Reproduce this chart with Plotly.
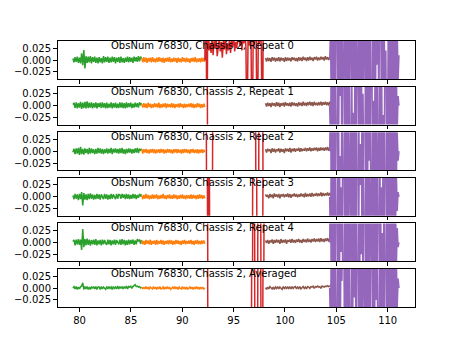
import numpy as np
import plotly.graph_objects as go

OBSNUM = 76830
CHASSIS = 2
panel_labels = ["Repeat 0", "Repeat 1", "Repeat 2", "Repeat 3", "Repeat 4", "Averaged"]

# Frequency span (GHz) of each band; samples are evenly spaced across it
green_span = (79.35, 86.05)
orange_span = (86.05, 92.2)
red_span = (92.2, 98.0)
brown_span = (98.1, 104.9)
purple_span = (104.35, 111.1)

# Spectrum values for each band, one list per panel, in units of 1e-3
green_vals = [
    [3, -5, 6, -4, 7, -6, 5, -7, 14, -11, 21, -18, 8, -6, 7, -5, 8, -7, 6, -4, 7, -6, 5, -7, 6, -5, 4, -7, 8, -5, 6, -4, 7, -6, 5, -5, 7, -4, 6, -7, 5, -4, 6, -6, 7, -5, 4, -6, 5, -4, 7, -5, 6, -4, 5, -6, 7, -3, 6, -4, 8, -3, 7, 3],
    [2, 6, -5, 7, -6, 5, -4, 8, -7, 6, -5, 8, -6, 9, -5, 6, -4, 7, -6, 5, -4, 7, -6, 5, -3, 6, -5, 7, -4, 5, -6, 6, -5, 4, -4, 7, -6, 5, -4, 6, -5, 4, -5, 7, -4, 6, -5, 5, -6, 7, -4, 5, -3, 6, -5, 4, -4, 6, -3, 5, -4, 7, 2, 5],
    [-2, 5, -6, 6, -5, 7, -8, 9, -6, 5, -7, 6, -4, 5, -6, 7, -5, 6, -4, 4, -6, 5, -5, 7, -4, 6, -5, 5, -6, 4, -4, 6, -5, 5, -4, 7, -6, 5, -3, 6, -4, 5, -5, 6, -4, 7, -5, 4, -6, 5, -4, 6, -3, 5, -5, 4, -4, 6, -3, 7, -4, 5, 2, 5],
    [3, -5, 6, -4, 5, -7, 6, -5, 10, -18, 8, -6, 5, -7, 6, -5, 7, -4, 5, -6, 4, -5, 6, -4, 5, -6, 5, -2, -5, 6, -4, 5, -6, 4, -5, 6, -4, 5, -2, -5, 6, -4, 5, 4, -4, 6, -2, 5, -5, 6, -4, 5, -5, 4, -4, 6, -3, 5, -5, 4, -2, 6, 2, 5],
    [2, 5, -6, 6, -4, 7, -5, 6, -16, 28, -10, 7, -6, 8, -5, 6, -7, 5, -4, 6, -5, 7, -6, 4, -4, 5, -6, 6, -4, 5, -2, -5, 6, -4, 5, -6, 4, -4, 6, -5, 5, -2, -4, 6, -5, 7, -4, 5, -6, 4, -5, 6, -4, 5, -3, 6, -5, 4, -4, 7, 2, 6, -3, 5],
    [0, 3, -2, 3, -3, 2, -2, 3, 4, 11, -3, 3, -2, 3, -3, 2, -3, 3, -1, 3, -2, 3, -3, 2, 2, -3, 3, -2, 2, -1, -3, 3, -2, 3, -1, 2, -3, 3, -1, 2, -2, 4, -2, 3, -1, 3, -2, 3, -1, 4, -2, 3, 2, 4, -1, 3, 5, 7, 3, 4, 2, 3, 0, 2],
]

orange_vals = [
    [4, -5, 6, -4, 5, -6, 4, -3, 5, -5, 6, -4, 3, -5, 5, -4, 6, -3, 4, -5, 5, -6, 4, -3, 5, -4, 6, -5, 3, -4, 5, -3, 4, -6, 5, -4, 3, -5, 6, -3, 4, -5, 5, -4, 3, -6, 4, -3, 5, -4, 6, -5, 3, -4, 4, -5, 5, -3, 4, -4],
    [3, -4, 5, -4, 4, -5, 6, -3, 4, -5, 3, -4, 5, -3, 4, -4, 6, -5, 3, -4, 4, -3, 5, -5, 4, -3, 3, -4, 5, -4, 4, -5, 3, -3, 4, -4, 5, -3, 3, -5, 4, -4, 3, -3, 4, -3, 5, -4, 4, -5, 3, -4, 5, -3, 4, -5, 3, -4, 4, -3],
    [4, -5, 4, -3, 5, -4, 3, -5, 4, -3, 5, -4, 4, -5, 3, -3, 4, -4, 5, -3, 4, -5, 3, -4, 5, -3, 4, -4, 3, -5, 4, -3, 5, -4, 4, -3, 3, -5, 4, -4, 5, -3, 4, -4, 3, -5, 4, -3, 5, -4, 3, -4, 4, -5, 3, -3, 4, -4, 3, -2],
    [3, -5, 4, -4, 6, -3, 4, -5, 3, -4, 5, -4, 4, -3, 5, -5, 3, -4, 4, -3, 6, -4, 3, -5, 4, -3, 5, -4, 3, -4, 5, -3, 4, -5, 3, -4, 4, -3, 5, -4, 3, -5, 4, -3, 3, -4, 5, -4, 4, -3, 3, -5, 4, -4, 5, -3, 4, -4, 3, -3],
    [4, -4, 3, -5, 5, -3, 4, -4, 6, -5, 3, -3, 4, -5, 5, -4, 3, -3, 5, -4, 4, -5, 3, -3, 4, -4, 5, -3, 4, -5, 3, -4, 5, -3, 4, -4, 3, -5, 4, -3, 5, -4, 3, -3, 4, -3, 5, -4, 3, -5, 4, -3, 5, -4, 3, -4, 4, -3, 4, -3],
    [2, -2, 2, -2, 3, -2, 2, -3, 2, -1, -2, 3, -2, 2, -3, 2, -2, 3, -2, -1, 2, -3, 2, -2, 3, -2, 2, -3, -1, 2, -2, 3, -2, 2, -3, 2, -1, -2, 3, -2, 2, -3, 2, -2, -1, 3, -2, 2, -3, 2, -2, 3, -2, 2, -3, 2, -2, 2, -2, 0],
]

red_vals = [
    [-1, 300, -300, 250, 20, 35, 15, 45, 10, 40, 25, 50, 8, 30, 45, 18, 38, 5, 42, 22, 48, 12, 35, 20, 45, 15, 40, 28, 50, 18, 38, 25, 45, 60, 30, 55, 20, 45, 35, 60, 25, -200, 40, 30, 55, 30, -250, 45, 30, 60, 40, -250, 50, 35, 60, 30, -300, 200, 300],
    [400, 380, 360, -420, -380, -400, -350, -420, -390, -410, -370, -400, -380, -420, -360, -400, -390, -410, -380, -400, -420, -370, -390, -400, -410, -380, -400, -360, -420, -390, -400, -380, -410, -400, -370, -390, -420, -400, -380, -410, -390, -400, -370, -420, -380, -400, -390, -410, -380, -400, -420, -370, -390, -400, -410, -380, -400, -390, -420],
    [400, 350, -350, -380, -400, -360, -390, -300, 300, 350, 380, 400, 360, 390, 410, 370, 400, 380, 420, 360, 400, 390, 410, 380, 400, 420, 370, 390, 400, 410, 380, 400, 360, 420, 390, 400, 380, 410, 400, 370, 390, 420, 400, 380, 410, 390, 400, 370, 380, 300, -300, -350, -300, 300, 350, 380, 300, -300, -400],
    [400, 380, 300, -300, 300, -300, -400, -380, -410, -390, -400, -360, -420, -380, -400, -390, -410, -370, -400, -380, -420, -390, -400, -360, -410, -380, -400, -390, -420, -370, -400, -380, -410, -390, -400, -360, -420, -380, -400, -390, -410, -370, -400, -380, -390, -350, -300, 300, 350, 320, 300, -300, -350, -380, -360, -330, -300, 300, 400],
    [400, 350, 450, -150, -300, -380, -400, -360, -410, -390, -400, -370, -420, -380, -400, -390, -410, -360, -400, -380, -420, -390, -400, -370, -410, -380, -400, -390, -420, -360, -400, -380, -410, -390, -400, -370, -420, -380, -400, -390, -410, -360, -400, -380, -390, -350, -300, 300, 300, -300, -320, -300, 300, 320, 300, -300, -320, -300, 300],
    [400, 350, 450, -150, -300, -380, -400, -360, -410, -390, -400, -370, -420, -380, -400, -390, -410, -360, -400, -380, -420, -390, -400, -370, -410, -380, -400, -390, -420, -360, -400, -380, -410, -390, -400, -370, -420, -380, -400, -390, -410, -360, -400, -380, -390, -300, 300, 320, 300, -300, -320, -300, 300, 320, 300, -300, -300, 300, 350],
]

brown_vals = [
    [4, -3, 5, -2, 4, -4, 6, -1, 5, -3, 4, -2, 6, -3, 5, -1, 4, -4, 6, -2, 5, -1, 4, -3, 6, 0, 5, -2, 4, -3, 6, -1, 5, -2, 7, 0, 5, -2, 6, -1, 7, 0, 5, -2, 6, 1, 7, -1, 5, 0, 7, 1, 6, -1, 8, 1, 6, 0, 7, 2, 8, 1, 7, 2],
    [5, -2, 6, -1, 5, -3, 6, 0, 5, -2, 7, -1, 6, -3, 5, 0, 6, -2, 7, 0, 5, -1, 6, -2, 7, 0, 6, -1, 5, -2, 7, 0, 6, -1, 8, 0, 6, -1, 7, 1, 8, 0, 7, -1, 8, 1, 6, 0, 7, 1, 8, 0, 7, 2, 8, 1, 7, 0, 8, 2, 7, 1, 8, 2],
    [4, -3, 5, 0, 4, -4, 6, -1, 5, -3, 4, 0, 6, -3, 5, -1, 4, -4, 6, 0, 5, -1, 7, -3, 5, 0, 6, -1, 5, 1, 7, -1, 6, 0, 5, 1, 7, 0, 6, 1, 8, 0, 6, 1, 7, 2, 8, 0, 7, 1, 8, 2, 7, 1, 8, 2, 9, 1, 7, 2, 8, 3, 7, 2],
    [5, 0, 4, -3, 6, -1, 5, -3, 7, 0, 5, -1, 6, -3, 5, 1, 6, -1, 5, 0, 7, -1, 6, -2, 5, 1, 7, 0, 6, -1, 5, 0, 7, 1, 6, -1, 8, 0, 6, 1, 7, 0, 8, 1, 6, 2, 8, 1, 7, 2, 9, 1, 8, 2, 7, 3, 9, 2, 8, 3, 7, 2, 8, 3],
    [4, -1, 5, -3, 4, 0, 6, -3, 5, -1, 6, 0, 5, -3, 7, -1, 5, 0, 6, -3, 5, 1, 6, -1, 7, 0, 5, -1, 6, 1, 7, 0, 5, -1, 7, 1, 6, 0, 8, 1, 6, 0, 7, 2, 8, 1, 7, 2, 8, 1, 9, 2, 7, 1, 8, 3, 9, 2, 8, 3, 7, 2, 8, 3],
    [1, -3, 2, -2, 3, -1, -2, 2, -3, 2, -1, 3, -2, 2, -1, -3, 3, -1, 2, -2, 3, -1, 2, -2, 3, -1, 2, 3, -2, 2, -1, 3, -2, 2, 3, -1, 2, -2, 3, 2, -1, 3, 2, 4, -1, 3, 2, 4, 2, 3, -1, 4, 3, 2, 4, 3, 5, 3, 4, 6, 4, 5, 3, 4],
]

purple_vals = [
    [0, 60, -150, 180, -170, 200, -190, 160, 170, -180, 200, -160, 190, -210, 170, -180, -15, 190, -170, 200, -160, 180, -190, 210, 25, -170, 160, -190, 180, -200, 170, -160, -20, 180, -170, 200, -180, 160, -210, 190, 30, -170, 200, -160, 190, -180, 170, -200, -160, 190, -180, 170, -200, 160, -10, 210, -170, 180, 190, -160, 200, -180, 170, -190, 20, -200, -170, 180, -190, 160, -170, 200, -150, 120, -160, 90, -140, 60, -40, 10],
    [0, -80, 160, -190, 200, -170, 180, -200, -160, 190, -180, 170, 20, 160, -190, 210, 180, -170, 190, -160, 200, -180, 170, -190, -200, 160, -180, -15, -170, 200, -160, 180, 170, -190, 160, -200, 180, -170, 25, -160, -180, 200, -170, 160, -190, 180, -200, 170, 160, -180, 10, -170, 200, -160, 180, -190, -170, 200, -160, 190, -180, -20, -200, 160, 190, -170, 180, -160, 200, -190, 150, -170, 130, -150, 100, -120, 70, -50, 20, 0],
    [0, 120, -170, 190, -160, 200, -180, 170, 180, -190, 160, -200, -10, -180, 190, -160, -170, 200, -190, 160, -180, 170, -200, 20, 160, -170, 180, -190, 200, -160, 170, -180, -200, 190, -170, 15, -190, 180, -160, 200, 210, -180, 170, -190, 160, -20, 180, -170, -160, 190, -180, 200, -170, 160, -190, 30, 170, -200, 190, -160, 180, -170, 200, -190, -180, 160, -170, 190, -200, 180, -150, 170, -120, 140, -90, 110, -60, 40, -20, 0],
    [0, -130, 180, -160, 190, -200, 170, -180, -190, 160, -170, 200, -180, 20, -160, 170, 180, -200, 160, -190, 170, -180, 200, -15, -170, 190, -180, 160, -200, 170, -190, 180, 200, -160, 190, 25, 180, -200, 160, -190, -180, 170, -160, 200, -190, 180, -170, -10, 190, -180, 170, -200, 160, -190, 180, -170, -160, 200, -180, 20, -170, 160, -200, 180, 170, -190, 160, -180, 200, -150, 170, -130, 150, -100, 120, -80, 50, -30, 10, 0],
    [0, 150, -180, 170, -190, 160, -200, 180, 190, -170, 160, -180, 200, -20, 170, -160, -180, 190, -170, 200, -160, 180, -190, 170, 10, -200, 190, -170, 180, -160, 200, -180, -170, 160, -190, 180, -25, 170, -160, 190, 200, -180, 170, -160, 190, -200, 180, 15, -190, 160, -180, 200, -170, 190, -160, 180, 170, -190, 160, -200, 20, -170, 190, -160, -180, 200, -190, 170, -160, 180, -140, 160, -110, 130, -80, 90, -50, 30, -10, 0],
    [0, -100, 170, -190, 180, -160, 200, -170, -180, 190, -160, 180, -200, 170, 15, 160, 170, -180, 200, -160, 190, -170, 180, -200, -190, 160, -180, 170, -20, 190, -160, 180, 160, -170, 190, -180, 200, -160, 170, 10, -170, 180, -200, 160, -180, 190, -170, 200, 180, -160, 190, -180, 170, -25, 160, -190, -180, 170, -160, 200, -190, 180, -170, 160, 190, -180, 170, -200, 160, -170, 140, -160, 120, -130, 90, -100, 60, -40, 20, 0],
]

# Drawing order and colours of the bands
bands = [
    (green_span, green_vals, "#2ca02c"),
    (orange_span, orange_vals, "#ff7f0e"),
    (red_span, red_vals, "#d62728"),
    (brown_span, brown_vals, "#8c564b"),
    (purple_span, purple_vals, "#9467bd"),
]

x_ticks = [80, 85, 90, 95, 100, 105, 110]
y_ticks = [-0.025, 0.0, 0.025]
y_tick_text = ["\u22120.025", "0.000", "0.025"]
x_range = [77.85, 112.63]
y_range = [-0.04, 0.04]

W, H = 461, 346
left_px, right_px = 57.5, 414.7
top0_px, step_px, panel_h_px = 41.0, 45.6, 38.0

font = dict(family="DejaVu Sans", size=10, color="black")

fig = go.Figure()
layout = dict(
    width=W, height=H,
    margin=dict(l=0, r=0, t=0, b=0),
    paper_bgcolor="white", plot_bgcolor="white",
    showlegend=False, font=font,
)
annotations = []
n = len(panel_labels)
for k, label in enumerate(panel_labels):
    sfx = "" if k == 0 else str(k + 1)
    xa, ya = "x" + sfx, "y" + sfx
    for span, vals, color in bands:
        v = np.asarray(vals[k], dtype=float) * 1e-3
        x = np.linspace(span[0], span[1], len(v))
        fig.add_trace(go.Scatter(x=x, y=v, mode="lines", xaxis=xa, yaxis=ya,
                                 line=dict(color=color, width=1.5),
                                 hoverinfo="skip"))
    top = top0_px + step_px * k
    bot = top + panel_h_px
    layout["xaxis" + sfx] = dict(
        domain=[left_px / W, right_px / W], anchor=ya, range=x_range,
        showline=True, mirror=True, linecolor="black", linewidth=1,
        ticks="outside", ticklen=3.5, tickwidth=0.8, tickcolor="black",
        tickvals=x_ticks, showticklabels=(k == n - 1),
        showgrid=False, zeroline=False, tickfont=font,
        **({} if k == 0 else {"matches": "x"}),
    )
    layout["yaxis" + sfx] = dict(
        domain=[1 - bot / H, 1 - top / H], anchor=xa, range=y_range,
        showline=True, mirror=True, linecolor="black", linewidth=1,
        ticks="outside", ticklen=3.5, tickwidth=0.8, tickcolor="black",
        tickvals=y_ticks, ticktext=y_tick_text,
        showgrid=False, zeroline=False, tickfont=font,
    )
    annotations.append(dict(
        text=f"ObsNum {OBSNUM}, Chassis {CHASSIS}, {label}",
        xref=xa, yref=ya + " domain", x=82.96, y=1.0,
        xanchor="left", yanchor="top", showarrow=False,
        font=font, borderpad=0, yshift=2,
    ))
layout["annotations"] = annotations
fig.update_layout(**layout)
fig.write_html("out.html")
